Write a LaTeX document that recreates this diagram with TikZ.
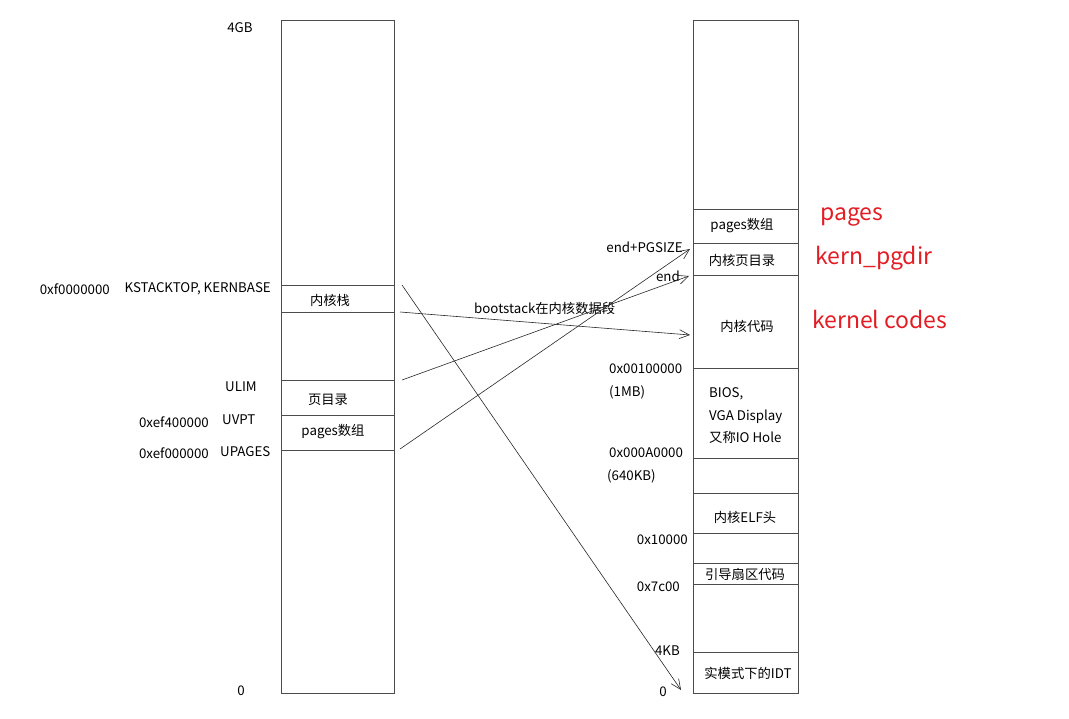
\documentclass[tikz,border=0pt]{standalone}
\usepackage{fontspec}
\setmainfont{Noto Sans CJK SC}
\usetikzlibrary{arrows.meta}
\definecolor{notered}{RGB}{228,28,36}
\begin{document}
\begin{tikzpicture}[x=1pt,y=-1pt,
	lbl/.style={font=\fontsize{13.3}{15}\selectfont, inner sep=0pt},
	redlbl/.style={font=\fontsize{23}{26}\selectfont, text=notered, inner sep=0pt, anchor=west},
	seg/.style={draw=black!70, line width=0.8pt},
	conn/.style={draw=black!85, line width=0.6pt, -{Straight Barb[length=10pt,width=9pt]}}]
	\useasboundingbox (0,0) rectangle (1069,719);
	
	%virtual memory
	\draw[seg] (281,20) rectangle (394,693);
	\foreach \y in {285, 312, 380, 415, 450}{
		\draw[seg] (281,\y)--(394,\y);
	}
	\node[lbl] (vtop) at (240,28){4GB};
	\node[lbl] (vzero) at (241,691){0};
	\node[lbl, anchor=east] (kbaseaddr) at (110,289){0xf0000000};
	\node[lbl, anchor=east] (kbase) at (271,289){KSTACKTOP, KERNBASE};
	\node[lbl] (ulim) at (241,387){ULIM};
	\node[lbl, anchor=east] (uvptaddr) at (209,422){0xef400000};
	\node[lbl, anchor=west] (uvpt) at (222,420){UVPT};
	\node[lbl, anchor=east] (upagesaddr) at (209,453){0xef000000};
	\node[lbl, anchor=west] (upages) at (220,452){UPAGES};
	\node[lbl] (kstack) at (330,300){内核栈};
	\node[lbl] (vpgdir) at (328,400){页目录};
	\node[lbl] (vpages) at (333,432){pages数组};
	
	%physical memory
	\draw[seg] (693,20) rectangle (798,693);
	\foreach \y in {209, 243, 275, 368, 458, 493, 533, 563, 584, 652}{
		\draw[seg] (693,\y)--(798,\y);
	}
	\node[lbl] (ppages) at (742,226){pages数组};
	\node[lbl] (ppgdir) at (742,260){内核页目录};
	\node[lbl] (pcode) at (747,326){内核代码};
	\node[lbl, anchor=west, align=left, font=\fontsize{13.3}{22.5}\selectfont] (bios) at (709,416){BIOS,\\VGA Display\\又称IO Hole};
	\node[lbl] (elf) at (745,517){内核ELF头};
	\node[lbl] (boot) at (745,574){引导扇区代码};
	\node[lbl] (idt) at (748,673){实模式下的IDT};
	
	\node[lbl, anchor=west] (mb1) at (609,369){0x00100000};
	\node[lbl, anchor=west] (mb1n) at (609,392){(1MB)};
	\node[lbl, anchor=west] (kb640) at (609,453){0x000A0000};
	\node[lbl, anchor=west] (kb640n) at (607,476){(640KB)};
	\node[lbl, anchor=east] (elfaddr) at (688,540){0x10000};
	\node[lbl, anchor=east] (bootaddr) at (680,587){0x7c00};
	\node[lbl, anchor=east] (kb4) at (680,651){4KB};
	\node[lbl] (pzero) at (663,692){0};
	\node[lbl, anchor=east] (endpg) at (683,247){end+PGSIZE};
	\node[lbl, anchor=east] (endk) at (680,276){end};
	\node[lbl, anchor=west] (bootstack) at (474,308){bootstack在内核数据段};
	
	\node[redlbl] (rpages) at (820,217){pages};
	\node[redlbl] (rpgdir) at (815,258){kern\_pgdir};
	\node[redlbl] (rcode) at (812,319){kernel codes};
	
	%mappings
	\coordinate (ktop) at (402,285);
	\coordinate (kbot) at (400,312);
	\coordinate (ulimpt) at (402,380);
	\coordinate (upagespt) at (400,449);
	\coordinate (pzeropt) at (681,690);
	\coordinate (pcodept) at (690,335);
	\coordinate (endpt) at (689,276);
	\coordinate (endpgpt) at (690,249);
	\draw[conn] (ktop) -- (pzeropt);
	\draw[conn] (kbot) -- (pcodept);
	\draw[conn] (ulimpt) -- (endpt);
	\draw[conn] (upagespt) -- (endpgpt);
\end{tikzpicture}
\end{document}
